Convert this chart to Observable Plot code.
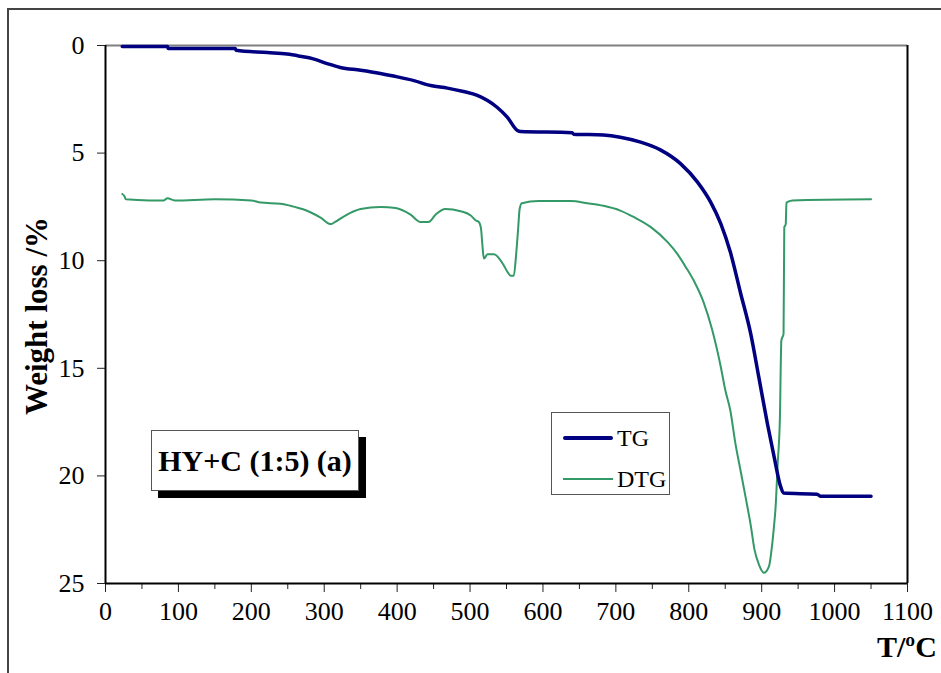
<!DOCTYPE html>
<html><head><meta charset="utf-8">
<script src="https://cdn.jsdelivr.net/npm/d3@7"></script>
<script src="https://cdn.jsdelivr.net/npm/@observablehq/plot@0.6"></script>
<style>
body{margin:0;background:#fff;overflow:hidden;font-family:"Liberation Serif","Times New Roman",serif;}
#wrap{position:relative;width:941px;height:673px;overflow:hidden;}
#wrap svg{position:absolute;left:0;top:0;}
.ov{position:absolute;line-height:1;white-space:nowrap;color:#000;}
#frame{left:7px;top:8px;width:1000px;height:1000px;border-left:2px solid #444;border-top:2px solid #444;}
#ytitle{left:36px;top:316px;transform:translate(-50%,-50%) rotate(-90deg);font-weight:bold;font-size:31px;}
#xtitle{left:877px;top:632px;font-weight:bold;font-size:30px;}
#note{left:151px;top:430px;width:206px;height:59px;border:1px solid #555;background:#fff;box-shadow:7px 7px 0 #000;font-weight:bold;font-size:30px;display:flex;align-items:center;justify-content:center;}
#legend{left:551px;top:412px;width:117px;height:81px;border:1.5px solid #555;background:#fff;}
.lg{position:absolute;left:11px;width:50px;}
.lt{position:absolute;left:65px;font-size:24px;line-height:1;}
</style></head>
<body><div id="wrap"></div>
<script>
// TG curve (temperature °C, weight loss %)
const tgT = [23,85,86,178,179,222,249,267,285,304,322,350,377,395,423,446,469,491,510,524,537,551,565,569,640,642,683,706,734,761,789,812,830,844,857,871,885,896,908,917,926,930,976,981,1050];
const tgW = [0.05,0.05,0.14,0.14,0.22,0.33,0.40,0.50,0.62,0.84,1.02,1.15,1.30,1.42,1.63,1.86,1.98,2.14,2.32,2.56,2.87,3.33,3.95,4.0,4.05,4.12,4.16,4.26,4.49,4.85,5.5,6.35,7.28,8.29,9.6,11.5,13.4,15.4,17.6,19.1,20.5,20.8,20.85,20.95,20.95];
// DTG curve (same axes)
const dtgT = [23,26,28,60,80,85,95,150,200,213,240,254,270,281,295,309,315,329,350,377,398,418,432,443,453,466,487,501,508,512,515,517,519,524,533,540,546,551,556,560,563,566,568,571,594,638,661,683,706,725,748,771,784,796,808,820,832,844,850,857,864,871,878,885,890,896,903,910,914,917,919,922,925,927,930,931,933,934,942,1050];
const dtgW = [6.9,7.0,7.15,7.2,7.2,7.1,7.2,7.15,7.2,7.3,7.35,7.45,7.6,7.75,8.0,8.3,8.2,7.9,7.6,7.5,7.55,7.85,8.2,8.2,7.85,7.6,7.7,7.9,8.13,8.2,8.5,9.3,9.9,9.7,9.7,9.9,10.2,10.5,10.7,10.7,9.8,8.5,7.6,7.33,7.23,7.23,7.33,7.45,7.67,7.98,8.44,9.14,9.67,10.3,11.0,11.9,13.2,14.95,16.0,16.96,18.5,19.75,21.0,22.3,23.4,24.1,24.5,24.2,23.3,22.3,21.5,19.4,17.3,13.7,13.4,8.45,8.3,7.3,7.2,7.15];
const xTicks = [0,100,200,300,400,500,600,700,800,900,1000,1100];
const xMinor = [50,150,250,350,450,550,650,750,850,950,1050];
const yTicks = [0,5,10,15,20,25];

const tg = tgT.map((t,i)=>({t, w: tgW[i]}));
const dtg = dtgT.map((t,i)=>({t, w: dtgW[i]}));

const plot = Plot.plot({
  width: 941, height: 673,
  marginLeft: 105, marginRight: 34, marginTop: 45, marginBottom: 90,
  x: {domain: [0, 1100], label: null},
  y: {domain: [0, 25], reverse: true, label: null},
  style: {fontFamily: "Liberation Serif", fontSize: "26px", color: "#000", background: "transparent", overflow: "visible"},
  marks: [
    Plot.ruleY([0], {stroke: "#808080", strokeWidth: 2}),
    Plot.ruleX([1100], {stroke: "#000", strokeWidth: 2}),
    Plot.axisX({ticks: xMinor, tickSize: 6, tickFormat: () => "", label: null, stroke: "#222"}),
    Plot.axisX({ticks: xTicks, tickSize: 9, tickPadding: 9, tickFormat: d => String(d), label: null, stroke: "#222", fontSize: 26}),
    Plot.axisY({ticks: yTicks, tickSize: 8, tickPadding: 13, tickFormat: d => String(d), label: null, stroke: "#222", fontSize: 26}),
    Plot.ruleX([0], {stroke: "#000", strokeWidth: 2}),
    Plot.ruleY([25], {stroke: "#000", strokeWidth: 2}),
    Plot.line(dtg, {x: "t", y: "w", stroke: "#339966", strokeWidth: 2, curve: "monotone-x"}),
    Plot.line(tg, {x: "t", y: "w", stroke: "#000080", strokeWidth: 3.5, curve: "monotone-x"})
  ]
});
d3.select(plot).selectAll("text")
  .style("font-family", "'Liberation Serif', serif")
  .style("font-size", "26px")
  .style("fill", "#000");
const wrap = document.getElementById("wrap");
wrap.appendChild(plot);
wrap.insertAdjacentHTML("beforeend", `
<div class="ov" id="frame"></div>
<div class="ov" id="ytitle">Weight loss /%</div>
<div class="ov" id="xtitle">T/ºC</div>
<div class="ov" id="note">HY+C (1:5) (a)</div>
<div class="ov" id="legend">
  <div class="lg" style="top:23px;height:4px;background:#000080;border-radius:2px"></div>
  <div class="lt" style="top:13px">TG</div>
  <div class="lg" style="top:65px;height:2px;background:#339966"></div>
  <div class="lt" style="top:54px">DTG</div>
</div>`);
</script>
</body></html>
